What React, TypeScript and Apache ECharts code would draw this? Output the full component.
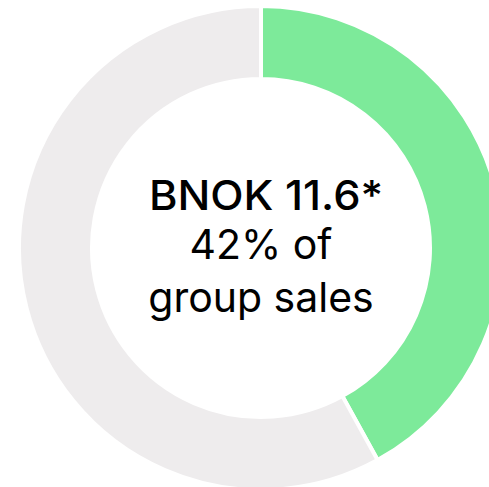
import React, { useEffect, useRef } from "react";
import * as echarts from "echarts";

const categories = ["Segment", "Rest of group"];
const values = [42, 58];
const colors = ["#7DEA9A", "#EEECED"];
const centerLines = ["BNOK 11.6*", "42% of", "group sales"];

export default function App() {
  const ref = useRef<HTMLDivElement>(null);
  useEffect(() => {
    if (!ref.current) return;
    const chart = echarts.init(ref.current, null, { renderer: "svg" });
    const font = "Inter, 'Noto Sans', sans-serif";
    const lineY = [195, 244, 297];
    const lineX = [266, 261, 261];
    const weights = [500, 400, 400];
    const stretch = [1.06, 1, 1];
    chart.setOption({
      animation: false,
      backgroundColor: "#ffffff",
      series: [
        {
          type: "pie",
          center: [261, 248],
          radius: [169, 242],
          startAngle: 90,
          clockwise: true,
          label: { show: false },
          labelLine: { show: false },
          emphasis: { disabled: true },
          itemStyle: { borderColor: "#ffffff", borderWidth: 4 },
          data: categories.map((name, i) => ({
            name,
            value: values[i],
            itemStyle: { color: colors[i] },
          })),
        },
      ],
      graphic: centerLines.map((t, i) => ({
        type: "text",
        x: lineX[i],
        y: lineY[i],
        scaleX: stretch[i],
        style: {
          text: t,
          fontFamily: font,
          fontSize: 41,
          fontWeight: weights[i],
          fill: "#000000",
          align: "center",
          verticalAlign: "middle",
        },
      })),
    });
    return () => chart.dispose();
  }, []);
  return (
    <div
      ref={ref}
      style={{ position: "fixed", left: 0, top: 0, width: 489, height: 487 }}
    />
  );
}
